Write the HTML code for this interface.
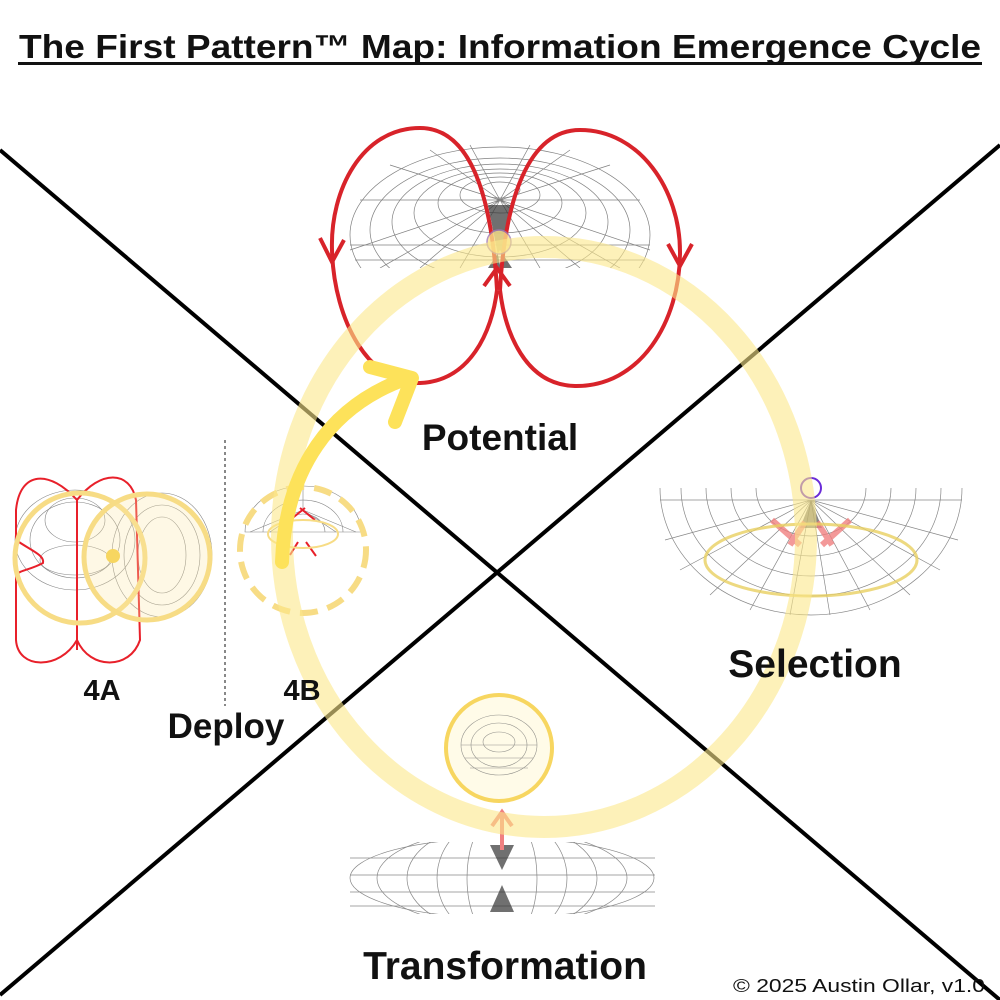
<!DOCTYPE html>
<html><head><meta charset="utf-8"><style>
html,body{margin:0;padding:0;background:#fff}
svg{display:block}
text{font-family:"Liberation Sans",sans-serif;font-weight:bold;fill:#111}
</style></head><body>
<svg width="1000" height="1000" viewBox="0 0 1000 1000" xmlns="http://www.w3.org/2000/svg">
<defs>
<clipPath id="ct"><rect x="340" y="130" width="320" height="138"/></clipPath>
<clipPath id="cs"><rect x="650" y="488" width="320" height="140"/></clipPath>
<clipPath id="cb"><rect x="340" y="842" width="320" height="72"/></clipPath>
</defs>
<!-- title -->
<text x="500" y="58" font-size="33" text-anchor="middle" textLength="962" lengthAdjust="spacingAndGlyphs">The First Pattern™ Map: Information Emergence Cycle</text>
<rect x="18" y="62" width="964" height="3" fill="#111"/>
<!-- X lines -->
<line x1="0" y1="150" x2="1000" y2="1000" stroke="#000" stroke-width="4"/>
<line x1="1000" y1="145" x2="0" y2="995" stroke="#000" stroke-width="4"/>
<!-- top torus -->
<g clip-path="url(#ct)" fill="none" stroke="#555" stroke-width="0.7" opacity="0.75">
<ellipse cx="500" cy="235" rx="150" ry="88"/>
<ellipse cx="500" cy="230" rx="130" ry="72"/>
<ellipse cx="500" cy="222" rx="108" ry="58"/>
<ellipse cx="500" cy="213" rx="86" ry="44"/>
<ellipse cx="500" cy="203" rx="62" ry="30"/>
<ellipse cx="500" cy="195" rx="40" ry="18"/>
<ellipse cx="500" cy="190" rx="20" ry="8"/>
<path d="M500,200 L350,250 M500,200 L360,200 M500,200 L390,165 M500,200 L430,150 M500,200 L470,145 M500,200 L530,145 M500,200 L570,150 M500,200 L610,165 M500,200 L640,200 M500,200 L650,250 M500,200 L380,268 M500,200 L420,268 M500,200 L460,268 M500,200 L540,268 M500,200 L580,268 M500,200 L620,268"/>
<path d="M350,245 L650,245 M355,260 L645,260"/>
</g>
<path d="M488,205 L512,205 L500,265 Z M488,268 L512,268 L500,250Z" fill="#333" opacity="0.7"/>
<!-- red loops -->
<g fill="none" stroke="#d8232a" stroke-width="4">
<path d="M497,290 C492,200 472,128 420,128 C362,128 330,190 332,250 C334,322 370,385 420,383 C470,381 492,332 497,290"/>
<path d="M500,290 C505,200 528,130 580,130 C640,130 680,190 680,252 C680,322 640,387 575,386 C525,385 505,332 500,290"/>
<path d="M320,238 L332,262 L344,240"/>
<path d="M668,244 L680,266 L692,244"/>
<path d="M484,286 L497,268 L510,286"/>
</g>
<circle cx="499" cy="242" r="12" fill="#fbe28a" stroke="#a07ab8" stroke-width="1.5" opacity="0.8"/>
<!-- selection bowl -->
<g clip-path="url(#cs)" fill="none" stroke="#555" stroke-width="0.7" opacity="0.7">
<ellipse cx="811" cy="488" rx="151" ry="127"/>
<ellipse cx="811" cy="488" rx="130" ry="108"/>
<ellipse cx="811" cy="488" rx="105" ry="88"/>
<ellipse cx="811" cy="488" rx="80" ry="68"/>
<ellipse cx="811" cy="488" rx="55" ry="48"/>
<path d="M811,500 L660,500 M811,500 L665,540 M811,500 L680,570 M811,500 L710,595 M811,500 L750,610 M811,500 L790,615 M811,500 L830,615 M811,500 L870,610 M811,500 L910,595 M811,500 L940,570 M811,500 L958,540 M811,500 L962,500"/>
</g>
<path d="M800,528 L822,528 L811,500Z" fill="#333" opacity="0.6"/>
<g stroke="#f08080" stroke-width="6" opacity="0.8" fill="none">
<path d="M772,520 L800,545 M850,520 L822,545 M790,545 L805,522 M832,545 L817,522"/>
</g>
<ellipse cx="811" cy="560" rx="106" ry="36" fill="none" stroke="#e8cf60" stroke-width="3" opacity="0.8"/>
<circle cx="811" cy="488" r="10" fill="none" stroke="#6a2bd8" stroke-width="2"/>
<!-- bottom torus -->
<g clip-path="url(#cb)" fill="none" stroke="#555" stroke-width="0.7" opacity="0.7">
<ellipse cx="502" cy="878" rx="152" ry="40"/>
<ellipse cx="502" cy="878" rx="125" ry="48"/>
<ellipse cx="502" cy="878" rx="95" ry="55"/>
<ellipse cx="502" cy="878" rx="65" ry="62"/>
<ellipse cx="502" cy="878" rx="35" ry="66"/>
<path d="M350,858 L655,858 M350,875 L655,875 M350,892 L655,892 M350,906 L655,906"/>
</g>
<path d="M490,845 L514,845 L502,870 Z M490,912 L514,912 L502,885Z" fill="#333" opacity="0.7"/>
<path d="M502,850 L502,815 M492,826 L502,812 L512,826" stroke="#f08080" stroke-width="4" fill="none"/>
<!-- transformation small torus -->
<circle cx="499" cy="748" r="53" fill="#fffbe8" stroke="#f7d660" stroke-width="4"/>
<g fill="none" stroke="#666" stroke-width="0.6" opacity="0.7">
<ellipse cx="499" cy="745" rx="38" ry="30"/><ellipse cx="499" cy="745" rx="28" ry="22"/><ellipse cx="499" cy="742" rx="16" ry="10"/>
<path d="M461,745 L537,745 M465,758 L533,758 M470,768 L528,768"/>
</g>
<!-- left group -->
<line x1="225" y1="440" x2="225" y2="706" stroke="#888" stroke-width="2" stroke-dasharray="3,3"/>
<g fill="none" stroke="#333" stroke-width="0.6" opacity="0.6">
<ellipse cx="75" cy="540" rx="60" ry="50"/><ellipse cx="75" cy="540" rx="45" ry="38"/><ellipse cx="75" cy="520" rx="30" ry="22"/><ellipse cx="75" cy="560" rx="35" ry="15"/>
<ellipse cx="162" cy="555" rx="50" ry="62"/><ellipse cx="162" cy="555" rx="38" ry="50"/><ellipse cx="162" cy="555" rx="24" ry="38"/>
</g>
<g clip-path="url(#c4b)" fill="none" stroke="#333" stroke-width="0.6" opacity="0.6">
<path d="M245,532 A58,46 0 0 1 361,532 Z"/>
<path d="M263,532 A40,32 0 0 1 343,532"/>
<path d="M281,532 A22,18 0 0 1 325,532"/>
<path d="M303,510 L250,532 M303,510 L270,532 M303,510 L336,532 M303,510 L356,532 M303,510 L303,486"/>
</g>
<g fill="none" stroke="#e8202a" stroke-width="2">
<path d="M77,500 C50,470 20,470 16,510 L16,640 C18,670 60,670 77,640"/>
<path d="M77,500 C100,470 130,470 136,500 L140,640 C130,670 90,670 77,640"/>
<path d="M16,540 C30,550 45,555 43,563 C30,570 20,570 16,575"/>
<line x1="77" y1="500" x2="77" y2="650"/>
<path d="M290,520 L305,508 M315,520 L300,508 M298,542 L290,555 M306,542 L316,556"/>
</g>
<circle cx="80" cy="558" r="65" fill="none" stroke="#f7dc85" stroke-width="5"/>
<circle cx="147" cy="557" r="63" fill="#fbe9a8" fill-opacity="0.3" stroke="#f7dc85" stroke-width="5"/>
<circle cx="113" cy="556" r="7" fill="#f7d660"/>
<ellipse cx="303" cy="534" rx="35" ry="14" fill="none" stroke="#f7dc85" stroke-width="2"/>
<circle cx="303" cy="550" r="63" fill="none" stroke="#f7dc85" stroke-width="6" stroke-dasharray="18,10"/>
<!-- big yellow ring -->
<ellipse cx="544" cy="537" rx="262" ry="290" fill="none" stroke="#fce78a" stroke-width="22" opacity="0.6"/>
<!-- yellow arrow -->
<g fill="none" stroke="#fde25a" stroke-width="14" stroke-linecap="round" stroke-linejoin="round">
<path d="M282,562 C285,470 330,405 408,378"/>
<path d="M370,367 L412,378 L395,422"/>
</g>
<!-- labels -->
<text x="500" y="450" font-size="37" text-anchor="middle">Potential</text>
<text x="815" y="677" font-size="39" text-anchor="middle">Selection</text>
<text x="505" y="979" font-size="39" text-anchor="middle">Transformation</text>
<text x="226" y="738" font-size="35" text-anchor="middle">Deploy</text>
<text x="102" y="700" font-size="29" text-anchor="middle">4A</text>
<text x="302" y="700" font-size="29" text-anchor="middle">4B</text>
<text x="985" y="992" font-size="18" text-anchor="end" textLength="252" lengthAdjust="spacingAndGlyphs" style="font-weight:normal">© 2025 Austin Ollar, v1.0</text>
</svg>
</body></html>
